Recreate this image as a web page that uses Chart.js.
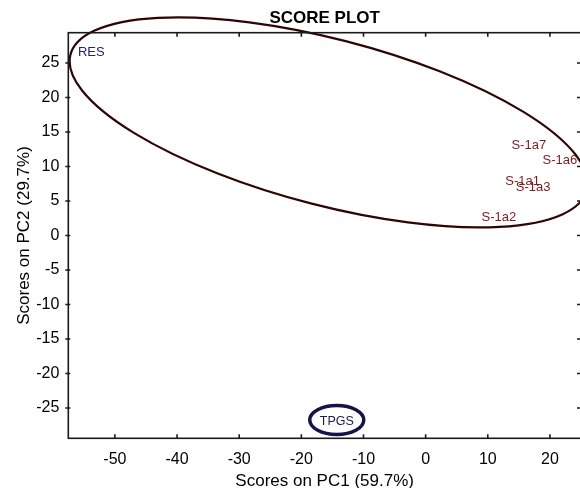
<!DOCTYPE html>
<html>
<head>
<meta charset="utf-8">
<script src="https://cdn.jsdelivr.net/npm/chart.js@4.4.0/dist/chart.umd.min.js"></script>
<style>
html, body { margin: 0; padding: 0; background: #fff; overflow: hidden; }
#wrap { width: 590px; height: 500px; }
</style>
</head>
<body>
<div id="wrap"><canvas id="scorePlot" width="590" height="500"></canvas></div>
<script>
const sampleNames = ['RES', 'S-1a7', 'S-1a6', 'S-1a1', 'S-1a3', 'S-1a2', 'TPGS'];
const pc1Scores = [-53.8, 16.6, 21.6, 15.6, 17.3, 11.8, -14.3];
const pc2Scores = [26.6, 13.0, 10.9, 7.8, 6.9, 2.6, -26.9];
const sampleColors = ['#25255f', '#7a1d1d', '#7a1d1d', '#7a1d1d', '#7a1d1d', '#7a1d1d', '#1a1a4c'];
const xTickValues = [-50, -40, -30, -20, -10, 0, 10, 20];
const yTickValues = [-25, -20, -15, -10, -5, 0, 5, 10, 15, 20, 25];

// confidence limit ellipse, in score units
const limitCenter = [-15.6, 16.4];
const limitRadii = [42.7, 12.1];
const limitAngle = -13.05; // degrees

const FONT = '"Liberation Sans", Arial, Helvetica, sans-serif';

const limitEllipse = {
    id: 'limitEllipse',
    afterDatasetsDraw(chart) {
        const { ctx, scales: { x, y } } = chart;
        const sx = x.getPixelForValue(1) - x.getPixelForValue(0);
        const sy = y.getPixelForValue(0) - y.getPixelForValue(1);
        ctx.save();
        ctx.translate(x.getPixelForValue(0), y.getPixelForValue(0));
        ctx.scale(sx, -sy);
        ctx.beginPath();
        ctx.ellipse(limitCenter[0], limitCenter[1], limitRadii[0], limitRadii[1],
            limitAngle * Math.PI / 180, 0, Math.PI * 2);
        ctx.restore();
        ctx.save();
        ctx.strokeStyle = '#2e0505';
        ctx.lineWidth = 2.2;
        ctx.stroke();
        ctx.restore();
    }
};

const sampleLabels = {
    id: 'sampleLabels',
    afterDatasetsDraw(chart) {
        const { ctx } = chart;
        const meta = chart.getDatasetMeta(0);
        ctx.save();
        ctx.textAlign = 'center';
        ctx.textBaseline = 'middle';
        meta.data.forEach((pt, i) => {
            const name = sampleNames[i];
            ctx.fillStyle = sampleColors[i];
            ctx.font = (name === 'TPGS' ? '12.5px ' : '13px ') + FONT;
            ctx.fillText(name, pt.x, pt.y);
            if (name === 'TPGS') {
                // ring drawn round this sample in the original
                ctx.beginPath();
                ctx.ellipse(pt.x, pt.y - 1, 27, 14.5, 0, 0, Math.PI * 2);
                ctx.strokeStyle = '#141448';
                ctx.lineWidth = 3.5;
                ctx.stroke();
            }
        });
        ctx.restore();
    }
};

const axesFrame = {
    id: 'axesFrame',
    afterDraw(chart) {
        const { ctx, chartArea: a, scales: { x, y } } = chart;
        ctx.save();
        ctx.strokeStyle = '#1a1a1a';
        ctx.lineWidth = 1.6;
        ctx.strokeRect(a.left, a.top, a.right - a.left, a.bottom - a.top);
        ctx.beginPath();
        xTickValues.forEach(v => {
            const px = x.getPixelForValue(v);
            ctx.moveTo(px, a.bottom); ctx.lineTo(px, a.bottom - 4);
            ctx.moveTo(px, a.top); ctx.lineTo(px, a.top + 4);
        });
        yTickValues.forEach(v => {
            const py = y.getPixelForValue(v);
            ctx.moveTo(a.left - 3, py); ctx.lineTo(a.left + 2, py);
            ctx.moveTo(a.right, py); ctx.lineTo(a.right - 4, py);
        });
        ctx.stroke();
        ctx.restore();
    }
};

const ctx = document.getElementById('scorePlot').getContext('2d');
new Chart(ctx, {
    type: 'scatter',
    data: {
        datasets: [{
            label: 'Scores',
            data: pc1Scores.map((v, i) => ({ x: v, y: pc2Scores[i] })),
            pointRadius: 0,
            pointHoverRadius: 0
        }]
    },
    options: {
        responsive: false,
        animation: false,
        layout: { padding: { left: 0, right: 9, top: 0, bottom: 0 } },
        scales: {
            x: {
                type: 'linear',
                min: -57.5,
                max: 25,
                grid: { display: false, drawTicks: false },
                border: { display: false },
                afterBuildTicks: s => { s.ticks = xTickValues.map(v => ({ value: v })); },
                afterFit: s => { s.height = 61.7; },
                ticks: { color: '#000', padding: 12, font: { family: FONT, size: 16 } },
                title: {
                    display: true,
                    text: 'Scores on PC1 (59.7%)',
                    color: '#000',
                    font: { family: FONT, size: 17 },
                    padding: { top: 0, bottom: 8 }
                }
            },
            y: {
                type: 'linear',
                min: -29.4,
                max: 29.4,
                grid: { display: false, drawTicks: false },
                border: { display: false },
                afterBuildTicks: s => { s.ticks = yTickValues.map(v => ({ value: v })); },
                afterFit: s => { s.width = 68.3; },
                ticks: { color: '#000', padding: 9, font: { family: FONT, size: 16 } },
                title: {
                    display: true,
                    text: 'Scores on PC2 (29.7%)',
                    color: '#000',
                    font: { family: FONT, size: 17 },
                    padding: { top: 14.3, bottom: 0 }
                }
            }
        },
        plugins: {
            legend: { display: false },
            tooltip: { enabled: false },
            title: {
                display: true,
                text: 'SCORE PLOT',
                fullSize: false,
                color: '#000',
                font: { family: FONT, size: 17, weight: 'bold' },
                padding: { top: 8.5, bottom: 3.8 }
            }
        }
    },
    plugins: [limitEllipse, sampleLabels, axesFrame]
});
</script>
</body>
</html>
